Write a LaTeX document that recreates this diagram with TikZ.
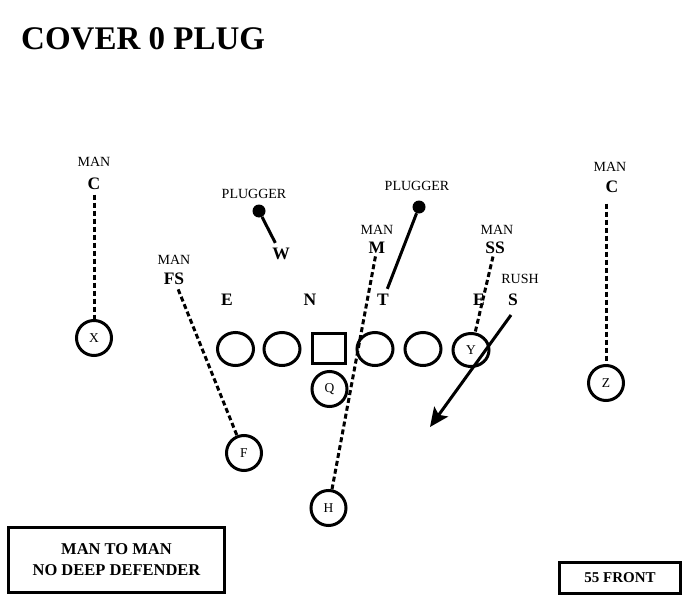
\documentclass[tikz,border=0pt]{standalone}
\usepackage{fontspec}
\setmainfont{Liberation Serif}
\usetikzlibrary{shapes.geometric,arrows.meta}
\begin{document}
\begin{tikzpicture}[x=1pt,y=-1pt,
  stroke/.style={line width=3pt},
  player/.style={circle,draw,stroke,minimum size=35pt,inner sep=0pt,font=\fontsize{13.5}{14}\selectfont},
  lineman/.style={ellipse,draw,stroke,minimum width=36pt,minimum height=33pt,inner sep=0pt},
  center/.style={rectangle,draw,stroke,minimum width=33pt,minimum height=30pt,inner sep=0pt},
  small/.style={inner sep=1pt,font=\fontsize{14}{15}\selectfont},
  posn/.style={inner sep=1.5pt,font=\fontsize{17.5}{18}\selectfont\bfseries},
  manline/.style={stroke,dash pattern=on 5pt off 3pt},
  plugline/.style={stroke},
  plugdot/.style={circle,fill,minimum size=13pt,inner sep=0pt},
  infobox/.style={draw,stroke,inner sep=0pt,align=center,font=\fontsize{16.5}{21}\selectfont\bfseries},
  rusharrow/.style={stroke,-{Stealth[length=19pt,width=17pt,inset=4pt]}}
]
\useasboundingbox (0,0) rectangle (688,602);
% title
\node[anchor=base west,inner sep=0pt,font=\fontsize{33}{36}\selectfont\bfseries] (title) at (21,50) {COVER 0 PLUG};

% offense
\node[lineman] (lt) at (235.5,349) {};
\node[lineman] (lg) at (282,349) {};
\node[center] (oc) at (329,348.5) {};
\node[lineman] (rg) at (375,349) {};
\node[lineman] (rt) at (423,349) {};
\node[lineman,font=\fontsize{13.5}{14}\selectfont] (Y) at (471,350) {Y};
\node[player] (Q) at (329.5,389) {Q};
\node[player] (X) at (94,338) {X};
\node[player] (Z) at (606,383) {Z};
\node[player] (F) at (244,453) {F};
\node[player] (H) at (328.5,508) {H};

% defense labels
\node[small] (manLC) at (94,162) {MAN};
\node[posn] (LC) at (94,184) {C};
\node[small] (manFS) at (174,260) {MAN};
\node[posn] (FS) at (174,279) {FS};
\node[small] (plugW) at (254,194) {PLUGGER};
\node[posn] (W) at (281,254) {W};
\node[plugdot] (dotW) at (259,211) {};
\node[small] (plugT) at (417,186) {PLUGGER};
\node[plugdot] (dotT) at (419,207) {};
\node[small] (manM) at (377,230) {MAN};
\node[posn] (M) at (377,248) {M};
\node[small] (manSS) at (497,230) {MAN};
\node[posn] (SS) at (495,248) {SS};
\node[small] (rush) at (520,279) {RUSH};
\node[posn] (S) at (513,300) {S};
\node[small] (manRC) at (610,167) {MAN};
\node[posn] (RC) at (612,187) {C};
\node[posn] (E1) at (227,300) {E};
\node[posn] (N) at (310,300) {N};
\node[posn] (T) at (383,300) {T};
\node[posn] (E2) at (479,300) {E};

% coverage lines
\draw[manline,shorten <=3pt] (LC) -- (X);
\draw[manline,shorten <=3pt] (FS) -- (F);
\draw[manline,shorten <=1pt] (M) -- (H);
\draw[manline,shorten <=1pt] (SS) -- (Y);
\draw[manline,shorten <=9pt] (RC.south -| Z.north) -- (Z.north);

% pluggers
\draw[plugline,shorten >=4pt] (dotW) -- (W);
\draw[plugline,shorten >=4pt] (dotT) -- (T);

% rush
\coordinate (rushfrom) at (511,315);
\coordinate (rushto) at (430,427);
\draw[rusharrow] (rushfrom) -- (rushto);

% info boxes
\node[infobox,minimum width=216pt,minimum height=65pt] (note) at (116.5,560) {MAN TO MAN\\NO DEEP DEFENDER};
\node[infobox,minimum width=121pt,minimum height=31pt,font=\fontsize{15}{18}\selectfont\bfseries] (front) at (620,578) {55 FRONT};
\end{tikzpicture}
\end{document}
